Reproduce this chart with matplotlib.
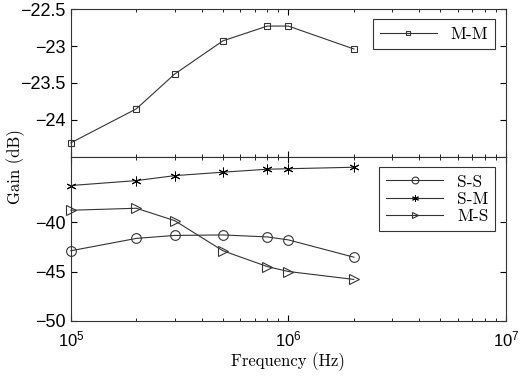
import matplotlib
matplotlib.use("Agg")
import matplotlib.pyplot as plt
import numpy as np

plt.rcParams['font.family'] = ['Liberation Sans', 'DejaVu Sans']
plt.rcParams['mathtext.fontset'] = 'custom'
plt.rcParams['mathtext.rm'] = 'Liberation Sans'
plt.rcParams['mathtext.it'] = 'Liberation Sans:italic'

freq = [1e5, 2e5, 3e5, 5e5, 8e5, 1e6, 2e6]
mm = [-24.31, -23.85, -23.38, -22.93, -22.73, -22.73, -23.04]
ss = [-42.9, -41.65, -41.35, -41.3, -41.5, -41.8, -43.55]
sm = [-36.3, -35.8, -35.3, -34.95, -34.65, -34.6, -34.45]
ms = [-38.8, -38.6, -39.85, -42.9, -44.5, -45.0, -45.8]

serif = 'cmr10'
lc = '#333333'

fig = plt.figure(figsize=(5.21, 3.78), dpi=100)
ax1 = fig.add_axes([0.136, 0.585, 0.835, 0.391])
ax2 = fig.add_axes([0.136, 0.151, 0.835, 0.434])

ax1.plot(freq, mm, color=lc, lw=0.8, marker='s', ms=5, mfc='none', mec=lc, mew=0.8, label='M-M', clip_on=False)
ax2.plot(freq, ss, color=lc, lw=0.8, marker='o', ms=7, mfc='none', mec=lc, mew=0.8, label='S-S', clip_on=False)
ax2.plot(freq, sm, color=lc, lw=0.8, marker=(6, 2, 0), ms=7, mec='black', mew=0.7, label='S-M', clip_on=False)
ax2.plot(freq, ms, color=lc, lw=0.8, marker='>', ms=7, mfc='none', mec=lc, mew=0.8, label='M-S', clip_on=False)

for ax in (ax1, ax2):
    ax.set_xscale('log')
    ax.set_xlim(1e5, 1e7)
    ax.tick_params(which='both', direction='in', top=True, right=True, labelsize=13)
    ax.tick_params(which='major', length=4)
    ax.tick_params(which='minor', length=2)
    for s in ax.spines.values():
        s.set_color(lc)
        s.set_linewidth(0.8)

ax1.set_ylim(-24.5, -22.5)
ax1.set_yticks([-24, -23.5, -23, -22.5])
ax1.set_yticklabels(['\u221224', '\u221223.5', '\u221223', '\u221222.5'])
ax1.tick_params(labelbottom=False)

ax2.set_ylim(-50, -33.4)
ax2.set_yticks([-50, -45, -40])
ax2.set_yticklabels(['\u221250', '\u221245', '\u221240'])
ax2.set_xticks([1e5, 1e6, 1e7])
ax2.tick_params(axis='x', labelsize=12, pad=6)

ax2.set_xlabel('Frequency (Hz)', family=serif, fontsize=12, labelpad=2)
fig.text(0.03, 0.56, 'Gain (dB)', family=serif, fontsize=12, rotation=90, va='center', ha='center')

for ax in (ax1, ax2):
    leg = ax.legend(loc='upper right', prop={'family': serif, 'size': 12.5}, fancybox=False,
                    handlelength=3.3, borderaxespad=0.6, labelspacing=0.1,
                    markerscale=0.7, edgecolor=lc, framealpha=1)
    leg.get_frame().set_linewidth(0.8)

fig.savefig('out.png', dpi=100)
